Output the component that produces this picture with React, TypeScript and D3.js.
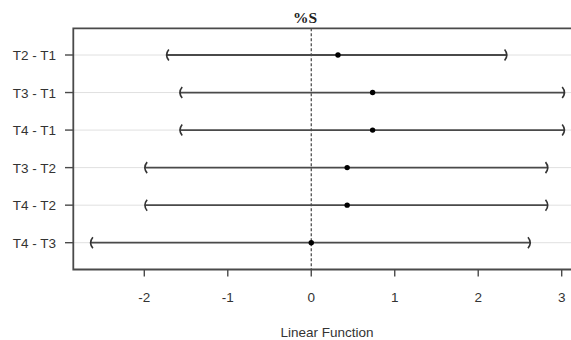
import React from "react";
import * as d3 from "d3";

const comparisons = ["T2 - T1", "T3 - T1", "T4 - T1", "T3 - T2", "T4 - T2", "T4 - T3"];
const estimates = [0.32, 0.735, 0.735, 0.43, 0.43, 0.0];
const lowers = [-1.73, -1.57, -1.57, -1.99, -1.99, -2.64];
const uppers = [2.34, 3.03, 3.03, 2.83, 2.83, 2.62];
const xTicks = [-2, -1, 0, 1, 2, 3];

const W = 571;
const H = 340;

export default function App() {
  const x = d3.scaleLinear().domain([-2, 3]).range([144.3, 561.7]);
  const y = d3.scalePoint<string>().domain(comparisons).range([55, 242.7]);
  const boxLeft = 73.3;
  const boxTop = 28.3;
  const boxBottom = 269.5;
  const boxRight = 600;
  const sans = "Liberation Sans, Arial, sans-serif";
  const bh = 5.5;

  return (
    <svg width={W} height={H} style={{ position: "absolute", left: 0, top: 0, background: "#fff" }}>
      {comparisons.map((c) => (
        <line key={"g" + c} x1={boxLeft} x2={boxRight} y1={y(c)} y2={y(c)} stroke="#e0e0e0" strokeWidth={1} />
      ))}
      <line x1={x(0)} x2={x(0)} y1={boxTop} y2={boxBottom} stroke="#444" strokeWidth={1.2} strokeDasharray="3,2" />
      {comparisons.map((c, i) => {
        const yy = y(c)!;
        const xl = x(lowers[i]);
        const xu = x(uppers[i]);
        return (
          <g key={c}>
            <line x1={xl} x2={xu} y1={yy} y2={yy} stroke="#4a4a4a" strokeWidth={1.8} />
            <path d={`M${xl + 2},${yy - bh} Q${xl - 2.5},${yy} ${xl + 2},${yy + bh}`} fill="none" stroke="#333" strokeWidth={1.6} />
            <path d={`M${xu - 2},${yy - bh} Q${xu + 2.5},${yy} ${xu - 2},${yy + bh}`} fill="none" stroke="#333" strokeWidth={1.6} />
            <circle cx={x(estimates[i])} cy={yy} r={2.7} fill="#000" />
          </g>
        );
      })}
      <path d={`M${boxRight},${boxTop} H${boxLeft} V${boxBottom} H${boxRight}`} fill="none" stroke="#4a4a4a" strokeWidth={1.8} />
      {comparisons.map((c) => (
        <g key={"y" + c}>
          <line x1={65} x2={boxLeft} y1={y(c)} y2={y(c)} stroke="#4a4a4a" strokeWidth={1.4} />
          <text x={56} y={y(c)! + 5} textAnchor="end" fontFamily={sans} fontSize={13.5} fill="#333">
            {c}
          </text>
        </g>
      ))}
      {xTicks.map((t) => (
        <g key={"x" + t}>
          <line x1={x(t)} x2={x(t)} y1={boxBottom} y2={boxBottom + 7} stroke="#4a4a4a" strokeWidth={1.4} />
          <text x={x(t)} y={301.5} textAnchor="middle" fontFamily={sans} fontSize={13.5} fill="#333">
            {t}
          </text>
        </g>
      ))}
      <text x={327} y={336.5} textAnchor="middle" fontFamily={sans} fontSize={13.5} fill="#333">
        Linear Function
      </text>
      <text x={305} y={23} textAnchor="middle" fontFamily="Liberation Serif, Times New Roman, serif" fontWeight="bold" fontSize={15.5} fill="#222">
        %S
      </text>
    </svg>
  );
}
